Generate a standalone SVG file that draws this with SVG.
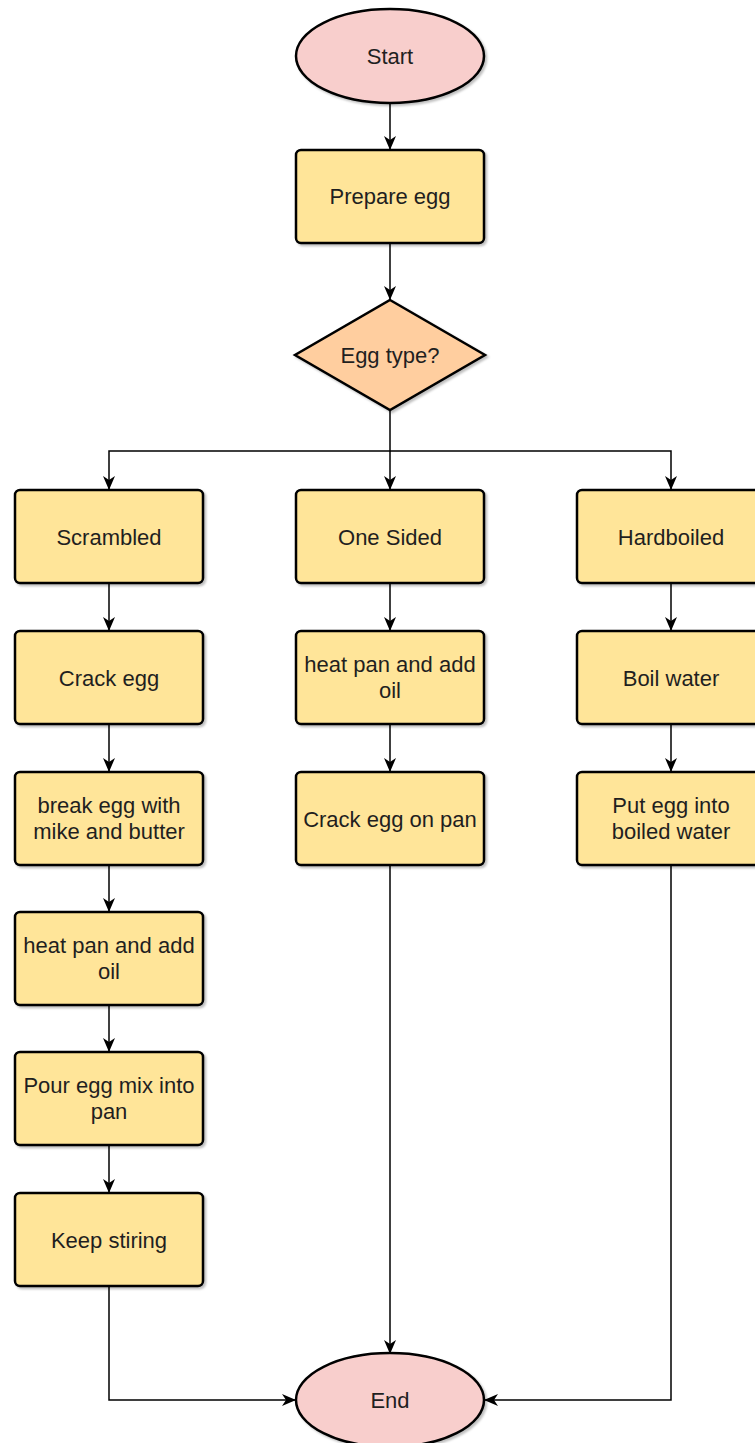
<svg xmlns="http://www.w3.org/2000/svg" width="755" height="1443" viewBox="0 0 755 1443">
  <style>
    .proc { fill: #FFE599; stroke: #000; stroke-width: 2.5; }
    .term { fill: #F8CECC; stroke: #000; stroke-width: 2.5; }
    .dec  { fill: #FFCE9F; stroke: #000; stroke-width: 2.5; }
    .lbl  { font-family: "Liberation Sans", Arial, sans-serif; font-size: 22px; fill: #1f1f1f; text-anchor: middle; }
    .edge { fill: none; stroke: #000; stroke-width: 1.5; }
  </style>
  <defs>
    <filter id="shadow" x="-10%" y="-10%" width="130%" height="130%">
      <feDropShadow dx="2" dy="2" stdDeviation="1" flood-color="#000" flood-opacity="0.25"/>
    </filter>
    <marker id="arrow" viewBox="0 0 14 12" refX="14" refY="6" markerWidth="14" markerHeight="12" markerUnits="userSpaceOnUse" orient="auto">
      <path d="M0,0 L14,6 L0,12 L4,6 Z" fill="#000"/>
    </marker>
  </defs>

  <!-- connectors -->
  <g id="connectors" class="edge">
    <path class="edge" d="M390,102 L390,150" marker-end="url(#arrow)"/>
    <path class="edge" d="M390,243 L390,300" marker-end="url(#arrow)"/>
    <path class="edge" d="M390,410 L390,451 L109,451 L109,490" marker-end="url(#arrow)"/>
    <path class="edge" d="M390,451 L390,490" marker-end="url(#arrow)"/>
    <path class="edge" d="M390,451 L671,451 L671,490" marker-end="url(#arrow)"/>
    <!-- scrambled column -->
    <path class="edge" d="M109,583 L109,631" marker-end="url(#arrow)"/>
    <path class="edge" d="M109,724 L109,772" marker-end="url(#arrow)"/>
    <path class="edge" d="M109,865 L109,912" marker-end="url(#arrow)"/>
    <path class="edge" d="M109,1005 L109,1052" marker-end="url(#arrow)"/>
    <path class="edge" d="M109,1145 L109,1193" marker-end="url(#arrow)"/>
    <path class="edge" d="M109,1286 L109,1400 L296,1400" marker-end="url(#arrow)"/>
    <!-- one sided column -->
    <path class="edge" d="M390,583 L390,631" marker-end="url(#arrow)"/>
    <path class="edge" d="M390,724 L390,772" marker-end="url(#arrow)"/>
    <path class="edge" d="M390,865 L390,1354" marker-end="url(#arrow)"/>
    <!-- hardboiled column -->
    <path class="edge" d="M671,583 L671,631" marker-end="url(#arrow)"/>
    <path class="edge" d="M671,724 L671,772" marker-end="url(#arrow)"/>
    <path class="edge" d="M671,865 L671,1400 L484,1400" marker-end="url(#arrow)"/>
  </g>

  <!-- nodes -->
  <g id="start">
    <ellipse class="term" cx="390" cy="56" rx="94" ry="47" filter="url(#shadow)"/>
    <text class="lbl" x="390" y="64" font-size="20">Start</text>
  </g>
  <g id="prepare-egg">
    <rect class="proc" x="296" y="150" width="188" height="93" rx="5" filter="url(#shadow)"/>
    <text class="lbl" x="390" y="204">Prepare egg</text>
  </g>
  <g id="egg-type">
    <polygon class="dec" points="390,300 485,355 390,410 295,355" filter="url(#shadow)"/>
    <text class="lbl" x="390" y="363">Egg type?</text>
  </g>

  <g id="scrambled">
    <rect class="proc" x="15" y="490" width="188" height="93" rx="5" filter="url(#shadow)"/>
    <text class="lbl" x="109" y="545">Scrambled</text>
  </g>
  <g id="crack-egg">
    <rect class="proc" x="15" y="631" width="188" height="93" rx="5" filter="url(#shadow)"/>
    <text class="lbl" x="109" y="686">Crack egg</text>
  </g>
  <g id="break-egg">
    <rect class="proc" x="15" y="772" width="188" height="93" rx="5" filter="url(#shadow)"/>
    <text class="lbl" x="109" y="813">break egg with</text>
    <text class="lbl" x="109" y="839">mike and butter</text>
  </g>
  <g id="heat-pan-1">
    <rect class="proc" x="15" y="912" width="188" height="93" rx="5" filter="url(#shadow)"/>
    <text class="lbl" x="109" y="953">heat pan and add</text>
    <text class="lbl" x="109" y="979">oil</text>
  </g>
  <g id="pour-egg">
    <rect class="proc" x="15" y="1052" width="188" height="93" rx="5" filter="url(#shadow)"/>
    <text class="lbl" x="109" y="1093">Pour egg mix into</text>
    <text class="lbl" x="109" y="1119">pan</text>
  </g>
  <g id="keep-stiring">
    <rect class="proc" x="15" y="1193" width="188" height="93" rx="5" filter="url(#shadow)"/>
    <text class="lbl" x="109" y="1248">Keep stiring</text>
  </g>

  <g id="one-sided">
    <rect class="proc" x="296" y="490" width="188" height="93" rx="5" filter="url(#shadow)"/>
    <text class="lbl" x="390" y="545">One Sided</text>
  </g>
  <g id="heat-pan-2">
    <rect class="proc" x="296" y="631" width="188" height="93" rx="5" filter="url(#shadow)"/>
    <text class="lbl" x="390" y="672">heat pan and add</text>
    <text class="lbl" x="390" y="698">oil</text>
  </g>
  <g id="crack-egg-on-pan">
    <rect class="proc" x="296" y="772" width="188" height="93" rx="5" filter="url(#shadow)"/>
    <text class="lbl" x="390" y="827">Crack egg on pan</text>
  </g>

  <g id="hardboiled">
    <rect class="proc" x="577" y="490" width="188" height="93" rx="5" filter="url(#shadow)"/>
    <text class="lbl" x="671" y="545">Hardboiled</text>
  </g>
  <g id="boil-water">
    <rect class="proc" x="577" y="631" width="188" height="93" rx="5" filter="url(#shadow)"/>
    <text class="lbl" x="671" y="686">Boil water</text>
  </g>
  <g id="put-egg">
    <rect class="proc" x="577" y="772" width="188" height="93" rx="5" filter="url(#shadow)"/>
    <text class="lbl" x="671" y="813">Put egg into</text>
    <text class="lbl" x="671" y="839">boiled water</text>
  </g>

  <g id="end">
    <ellipse class="term" cx="390" cy="1400" rx="94" ry="47" filter="url(#shadow)"/>
    <text class="lbl" x="390" y="1408" font-size="20">End</text>
  </g>
</svg>
